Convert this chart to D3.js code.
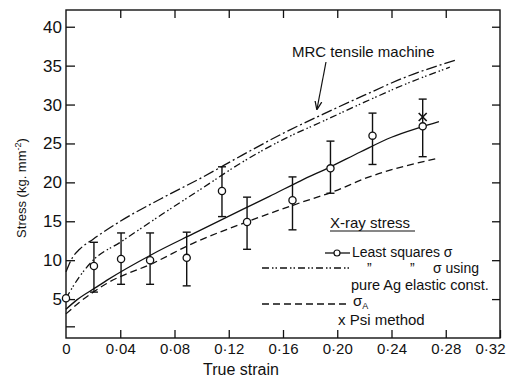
<!DOCTYPE html>
<html>
<head>
<meta charset="utf-8">
<script src="https://cdn.jsdelivr.net/npm/d3@7"></script>
<style>
  body { margin: 0; background: #fff; }
  text { font-family: "Liberation Sans", Arial, sans-serif; fill: #111; }
</style>
</head>
<body>
<div id="chart"></div>
<script>
// least squares points with error bars
const strain = [0, 0.0206, 0.0406, 0.062, 0.089, 0.115, 0.1335, 0.167, 0.195, 0.226, 0.263];
const stress = [5.1, 9.25, 10.15, 10.0, 10.3, 18.9, 14.9, 17.7, 21.8, 26.0, 27.2];
const errHi = [null, 12.3, 13.5, 13.5, 13.6, 22.0, 18.1, 20.7, 25.3, 28.9, 30.7];
const errLo = [null, 5.9, 6.9, 6.9, 6.7, 15.6, 11.4, 13.9, 18.6, 22.3, 23.3];

// curves: [strain, stress]
const mrcCurve = [[0, 8.5], [0.005, 10.4], [0.01, 11.4], [0.02, 12.7], [0.04, 15.0], [0.07, 17.9], [0.10, 20.6],
  [0.13, 23.5], [0.16, 26.3], [0.19, 28.8], [0.22, 31.2], [0.25, 33.5], [0.287, 35.7]];
const pureAgCurve = [[0, 5.1], [0.01, 7.9], [0.02, 10.0], [0.04, 12.3], [0.07, 15.8], [0.10, 19.2],
  [0.13, 22.6], [0.16, 25.5], [0.19, 27.9], [0.22, 30.3], [0.25, 32.6], [0.283, 34.8]];
const lsqCurve = [[0, 3.7], [0.008, 4.9], [0.023, 6.6], [0.03, 7.4], [0.064, 10.8], [0.095, 13.5], [0.131, 16.6],
  [0.15, 18.2], [0.173, 20.2], [0.195, 22.0], [0.217, 23.9], [0.24, 25.8], [0.26, 27.0], [0.275, 27.8]];
const sigmaACurve = [[0, 3.1], [0.01, 4.6], [0.03, 7.0], [0.064, 9.6], [0.094, 12.2], [0.133, 14.9],
  [0.173, 17.4], [0.197, 18.8], [0.222, 20.6], [0.274, 23.1]];

const psiPoint = [[0.263, 28.4]];

const xTicks = [0, 0.04, 0.08, 0.12, 0.16, 0.20, 0.24, 0.28, 0.32];
const xTickLabels = ['0', '0·04', '0·08', '0·12', '0·16', '0·20', '0·24', '0·28', '0·32'];
const yTicks = [1.5, 5, 10, 15, 20, 25, 30, 35, 40];

const width = 508, height = 379;
const margin = { top: 10, right: 8, bottom: 41, left: 66 };

const svg = d3.select('#chart').append('svg')
  .attr('width', width)
  .attr('height', height);

const x = d3.scaleLinear().domain([0, 0.32]).range([margin.left, width - margin.right]);
const y = d3.scaleLinear().domain([0, 42.15]).range([height - margin.bottom, margin.top]);

const ink = '#111';

// frame
svg.append('rect')
  .attr('x', margin.left).attr('y', margin.top)
  .attr('width', width - margin.left - margin.right)
  .attr('height', height - margin.top - margin.bottom)
  .attr('fill', 'none').attr('stroke', ink).attr('stroke-width', 1.4);

// axes, ticks pointing inwards
const fmtX = d => xTickLabels[xTicks.indexOf(d)];
const fmtY = d => (d % 5 === 0 ? d : '');

const xAxis = svg.append('g')
  .attr('transform', `translate(0,${height - margin.bottom})`)
  .call(d3.axisBottom(x).tickValues(xTicks).tickFormat(fmtX).tickSizeInner(-8).tickSizeOuter(0).tickPadding(5));
const yAxis = svg.append('g')
  .attr('transform', `translate(${margin.left},0)`)
  .call(d3.axisLeft(y).tickValues(yTicks).tickFormat(fmtY).tickSizeInner(-9).tickSizeOuter(0).tickPadding(4));
svg.append('g')
  .attr('transform', `translate(0,${margin.top})`)
  .call(d3.axisTop(x).tickValues(xTicks.slice(1, -1)).tickFormat('').tickSizeInner(-8).tickSizeOuter(0));
svg.append('g')
  .attr('transform', `translate(${width - margin.right},0)`)
  .call(d3.axisRight(y).tickValues(yTicks.slice(1)).tickFormat('').tickSizeInner(-8).tickSizeOuter(0));

svg.selectAll('.domain').remove();
svg.selectAll('.tick line').attr('stroke', ink).attr('stroke-width', 1.3);
xAxis.selectAll('text').attr('font-size', 15).attr('dy', '0.75em');
xAxis.selectAll('.tick:last-child text').attr('text-anchor', 'end').attr('x', 5);
yAxis.selectAll('text').attr('font-size', 17);
xAxis.selectAll('.tick:first-child line').remove();

// axis titles
svg.append('text')
  .attr('x', 241).attr('y', 375)
  .attr('text-anchor', 'middle').attr('font-size', 16)
  .text('True strain');

const yTitle = svg.append('text')
  .attr('transform', 'translate(26,188) rotate(-90)')
  .attr('text-anchor', 'middle').attr('font-size', 13);
yTitle.append('tspan').text('Stress (kg. mm');
yTitle.append('tspan').attr('dy', -5).attr('font-size', 9).text('-2');
yTitle.append('tspan').attr('dy', 5).text(')');

// curves
const line = d3.line().x(d => x(d[0])).y(d => y(d[1])).curve(d3.curveMonotoneX);

const curves = [
  { data: mrcCurve, dash: '11,3,2,3' },
  { data: pureAgCurve, dash: '7,3,1.5,2,1.5,3' },
  { data: lsqCurve, dash: null },
  { data: sigmaACurve, dash: '7,4' }
];

svg.selectAll('.curve')
  .data(curves)
  .enter().append('path')
  .attr('class', 'curve')
  .attr('d', d => line(d.data))
  .attr('fill', 'none')
  .attr('stroke', ink)
  .attr('stroke-width', 1.3)
  .attr('stroke-dasharray', d => d.dash);

// error bars
const pts = strain.map((s, i) => ({ s, v: stress[i], hi: errHi[i], lo: errLo[i] }));
const bars = svg.selectAll('.err')
  .data(pts.filter(d => d.hi !== null))
  .enter().append('g').attr('class', 'err')
  .attr('stroke', ink).attr('stroke-width', 1.4);
bars.append('line')
  .attr('x1', d => x(d.s)).attr('x2', d => x(d.s))
  .attr('y1', d => y(d.hi)).attr('y2', d => y(d.lo));
bars.append('line')
  .attr('x1', d => x(d.s) - 4).attr('x2', d => x(d.s) + 4)
  .attr('y1', d => y(d.hi)).attr('y2', d => y(d.hi));
bars.append('line')
  .attr('x1', d => x(d.s) - 4).attr('x2', d => x(d.s) + 4)
  .attr('y1', d => y(d.lo)).attr('y2', d => y(d.lo));

svg.selectAll('.pt')
  .data(pts)
  .enter().append('circle')
  .attr('class', 'pt')
  .attr('cx', d => x(d.s)).attr('cy', d => y(d.v))
  .attr('r', 3.6)
  .attr('fill', '#fff').attr('stroke', ink).attr('stroke-width', 1.3);

// Psi method cross
const cross = svg.selectAll('.psi').data(psiPoint).enter().append('g')
  .attr('class', 'psi').attr('stroke', ink).attr('stroke-width', 1.6);
cross.append('line')
  .attr('x1', d => x(d[0]) - 4).attr('x2', d => x(d[0]) + 4)
  .attr('y1', d => y(d[1]) - 4).attr('y2', d => y(d[1]) + 4);
cross.append('line')
  .attr('x1', d => x(d[0]) - 4).attr('x2', d => x(d[0]) + 4)
  .attr('y1', d => y(d[1]) + 4).attr('y2', d => y(d[1]) - 4);

// MRC annotation
svg.append('defs').append('marker')
  .attr('id', 'arrow').attr('viewBox', '0 0 10 10')
  .attr('refX', 9).attr('refY', 5)
  .attr('markerWidth', 7).attr('markerHeight', 7)
  .attr('orient', 'auto')
  .append('path').attr('d', 'M0,1 L10,5 L0,9').attr('fill', 'none').attr('stroke', ink).attr('stroke-width', 1.5);

svg.append('text')
  .attr('x', 292).attr('y', 57)
  .attr('font-size', 15)
  .text('MRC tensile machine');
svg.append('line')
  .attr('x1', 326).attr('y1', 62).attr('x2', 317).attr('y2', 109)
  .attr('stroke', ink).attr('stroke-width', 1.2)
  .attr('marker-end', 'url(#arrow)');

// legend
const lg = svg.append('g');
lg.append('text').attr('x', 330).attr('y', 228).attr('font-size', 15).text('X-ray stress');
lg.append('line').attr('x1', 330).attr('x2', 415).attr('y1', 231).attr('y2', 231)
  .attr('stroke', ink).attr('stroke-width', 1.1);

lg.append('line').attr('x1', 325).attr('x2', 350).attr('y1', 253).attr('y2', 253)
  .attr('stroke', ink).attr('stroke-width', 1.3);
lg.append('circle').attr('cx', 337).attr('cy', 253).attr('r', 3)
  .attr('fill', '#fff').attr('stroke', ink).attr('stroke-width', 1.2);
lg.append('text').attr('x', 352).attr('y', 257).attr('font-size', 14).text('Least squares σ');

lg.append('line').attr('x1', 262).attr('x2', 350).attr('y1', 268).attr('y2', 268)
  .attr('stroke', ink).attr('stroke-width', 1.3).attr('stroke-dasharray', curves[1].dash);
const ditto = lg.append('text').attr('y', 273).attr('font-size', 14);
ditto.append('tspan').attr('x', 367).text('”');
ditto.append('tspan').attr('x', 410).text('”');
ditto.append('tspan').attr('x', 433).text('σ using');
lg.append('text').attr('x', 351).attr('y', 289.5).attr('font-size', 14.5).text('pure Ag elastic const.');

lg.append('line').attr('x1', 262).attr('x2', 346).attr('y1', 304).attr('y2', 304)
  .attr('stroke', ink).attr('stroke-width', 1.3).attr('stroke-dasharray', '7,4');
const sa = lg.append('text').attr('x', 353).attr('y', 306).attr('font-size', 15);
sa.append('tspan').text('σ');
sa.append('tspan').attr('dy', 3).attr('font-size', 9).text('A');

lg.append('text').attr('x', 338).attr('y', 325).attr('font-size', 15).text('x  Psi method');
</script>
</body>
</html>
